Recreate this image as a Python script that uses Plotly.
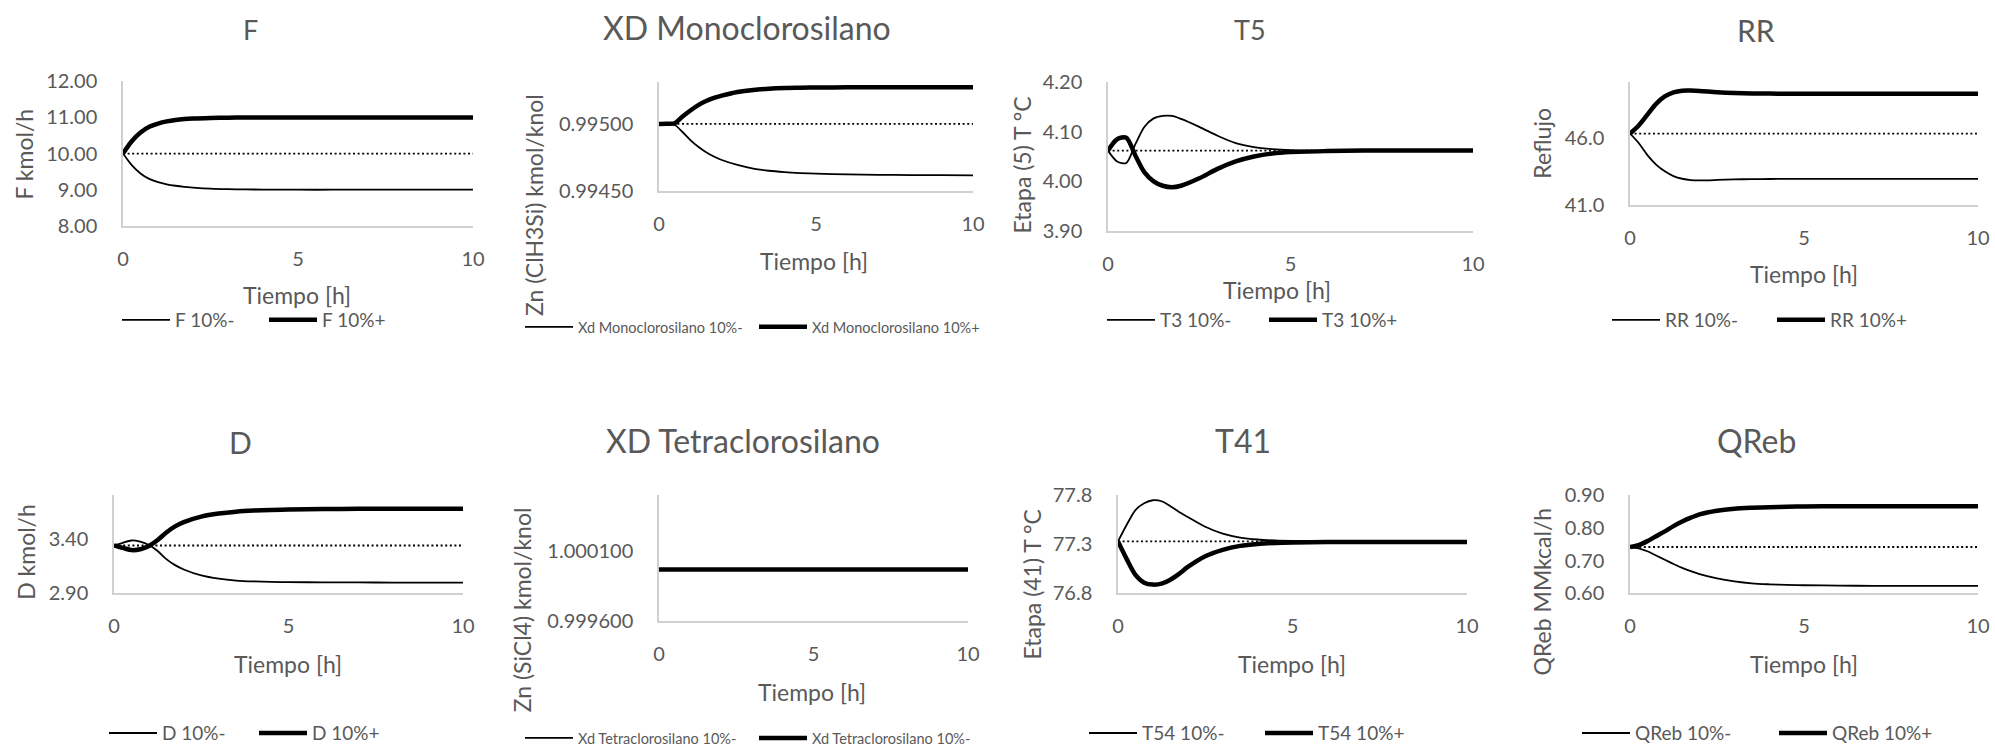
import plotly.graph_objects as go

# ---------------------------------------------------------------- data
tiempo = [0, 0.25, 0.5, 0.75, 1, 1.25, 1.5, 1.75, 2, 2.5, 3, 3.5, 4, 4.5, 5, 6, 7, 8, 9, 10]

f_base = 10.0
f_menos = [10.0, 9.68, 9.45, 9.30, 9.21, 9.15, 9.11, 9.08, 9.06, 9.03, 9.015, 9.008, 9.004,
           9.002, 9.0, 9.0, 9.0, 9.0, 9.0, 9.0]
f_mas = [10.0, 10.34, 10.58, 10.74, 10.83, 10.89, 10.93, 10.955, 10.97, 10.985, 10.993, 10.997,
         10.999, 11.0, 11.0, 11.0, 11.0, 11.0, 11.0, 11.0]

mono_base = 0.995
mono_menos = [0.995000, 0.994999, 0.994992, 0.994940, 0.994880, 0.994830, 0.994790, 0.994758,
              0.994732, 0.994695, 0.994668, 0.994652, 0.994642, 0.994635, 0.994630, 0.994625,
              0.994622, 0.994620, 0.994619, 0.994618]
mono_mas = [0.995000, 0.995001, 0.995005, 0.995055, 0.995100, 0.995140, 0.995170, 0.995193,
            0.995210, 0.995237, 0.995253, 0.995262, 0.995267, 0.995269, 0.995271, 0.995272,
            0.995272, 0.995273, 0.995273, 0.995273]

t5_base = 4.062
t5_menos = [4.062, 4.040, 4.037, 4.075, 4.110, 4.127, 4.132, 4.132, 4.126, 4.110, 4.092, 4.077,
            4.069, 4.065, 4.063, 4.062, 4.062, 4.062, 4.062, 4.062]
t5_mas = [4.062, 4.085, 4.088, 4.052, 4.018, 4.000, 3.991, 3.988, 3.991, 4.006, 4.025, 4.040,
          4.050, 4.056, 4.059, 4.061, 4.062, 4.062, 4.062, 4.062]

rr_base = 46.3
rr_menos = [46.3, 45.6, 44.7, 44.0, 43.5, 43.15, 42.95, 42.85, 42.83, 42.86, 42.90, 42.92,
            42.93, 42.94, 42.94, 42.94, 42.94, 42.94, 42.94, 42.94]
rr_mas = [46.3, 46.9, 47.7, 48.5, 49.05, 49.35, 49.47, 49.48, 49.45, 49.36, 49.30, 49.27,
          49.26, 49.25, 49.25, 49.25, 49.25, 49.25, 49.25, 49.25]

d_base = 3.34
d_menos = [3.34, 3.365, 3.386, 3.375, 3.345, 3.29, 3.215, 3.16, 3.12, 3.065, 3.035, 3.018,
           3.010, 3.006, 3.004, 3.002, 3.001, 3.0, 3.0, 3.0]
d_mas = [3.34, 3.318, 3.298, 3.305, 3.335, 3.39, 3.46, 3.515, 3.555, 3.605, 3.633, 3.650,
         3.660, 3.666, 3.670, 3.674, 3.676, 3.676, 3.676, 3.676]

tetra_menos = [0.99997] * 20
tetra_mas = [0.99997] * 20

t41_base = 77.33
t41_menos = [77.33, 77.50, 77.65, 77.72, 77.75, 77.74, 77.69, 77.63, 77.58, 77.48, 77.41,
             77.37, 77.35, 77.34, 77.335, 77.33, 77.33, 77.33, 77.33, 77.33]
t41_mas = [77.33, 77.15, 76.99, 76.91, 76.89, 76.90, 76.94, 77.00, 77.07, 77.18, 77.245,
           77.285, 77.305, 77.315, 77.32, 77.325, 77.325, 77.325, 77.325, 77.325]

qreb_base = 0.742
qreb_menos = [0.742, 0.738, 0.729, 0.716, 0.703, 0.690, 0.678, 0.668, 0.659, 0.646, 0.637,
              0.631, 0.628, 0.626, 0.625, 0.624, 0.623, 0.623, 0.623, 0.623]
qreb_mas = [0.742, 0.748, 0.760, 0.775, 0.790, 0.806, 0.820, 0.832, 0.842, 0.853, 0.859,
            0.862, 0.864, 0.865, 0.866, 0.867, 0.867, 0.867, 0.867, 0.867]

titulos = ["F", "XD Monoclorosilano", "T5", "RR", "D", "XD Tetraclorosilano", "T41", "QReb"]
titulos_y = ["F kmol/h", "Zn (ClH3Si) kmol/knol", "Etapa (5) T °C", "Reflujo",
             "D kmol/h", "Zn (SiCl4) kmol/knol", "Etapa (41) T °C", "QReb MMkcal/h"]
nombres = [("F 10%-", "F 10%+"),
           ("Xd Monoclorosilano 10%-", "Xd Monoclorosilano 10%+"),
           ("T3 10%-", "T3 10%+"),
           ("RR 10%-", "RR 10%+"),
           ("D 10%-", "D 10%+"),
           ("Xd Tetraclorosilano 10%-", "Xd Tetraclorosilano 10%-"),
           ("T54 10%-", "T54 10%+"),
           ("QReb 10%-", "QReb 10%+")]
series = [(f_menos, f_mas, f_base), (mono_menos, mono_mas, mono_base),
          (t5_menos, t5_mas, t5_base), (rr_menos, rr_mas, rr_base),
          (d_menos, d_mas, d_base), (tetra_menos, tetra_mas, None),
          (t41_menos, t41_mas, t41_base), (qreb_menos, qreb_mas, qreb_base)]
y_rangos = [[8, 12], [0.9945, 0.99531], [3.9, 4.2], [41, 50.1],
            [2.9, 3.8], [0.9996, 1.0005], [76.8, 77.8], [0.6, 0.9]]
y_ticks = [[8, 9, 10, 11, 12], [0.9945, 0.995], [3.9, 4.0, 4.1, 4.2], [41, 46],
           [2.9, 3.4], [0.9996, 1.0001], [76.8, 77.3, 77.8], [0.6, 0.7, 0.8, 0.9]]
y_formatos = [".2f", ".5f", ".2f", ".1f", ".2f", ".6f", ".1f", ".2f"]
x_ticks = [0, 5, 10]

# ---------------------------------------------------------------- layout geometry (pixels)
W, H = 1995, 754
# plot boxes: left, right, top, bottom
cajas = [(123, 473, 82, 228), (659, 973, 83, 193), (1108, 1473, 83, 233), (1630, 1978, 83, 207),
         (114, 463, 500, 599), (659, 968, 500, 627), (1118, 1467, 500, 599), (1630, 1978, 500, 599)]
pos_titulo = [(250, 30, 27), (747, 28, 32), (1250, 30, 27), (1756, 30, 30),
              (240, 446, 30), (743, 445, 32), (1243, 445, 32), (1756, 445, 32)]
pos_titulo_y = [(24, 156), (534, 207), (1022, 167), (1542, 145),
                (26, 557), (522, 616), (1032, 590), (1542, 597)]
pos_titulo_x = [(297, 298), (814, 263), (1277, 293), (1804, 277),
                (288, 670), (812, 698), (1292, 670), (1804, 670)]
# legend: first text start, row centre, spacing between items, font size
pos_leyenda = [(175, 323, 147, 19), (578, 330, 234, 14.5), (1160, 323, 162, 19),
               (1665, 323, 165, 19), (162, 740, 150, 19), (578, 745, 234, 14.5),
               (1142, 740, 176, 19), (1635, 740, 197, 19)]
MUESTRA = 48  # legend line sample length

GRIS = "#595959"
EJE = "#d0d0d0"
FUENTE = "Lato"


def px_x(v):
    return v / W


def px_y(v):
    return 1 - v / H


fig = go.Figure()
layout = dict(
    width=W, height=H,
    margin=dict(l=0, r=0, t=0, b=0),
    paper_bgcolor="white", plot_bgcolor="white",
    font=dict(family=FUENTE, color=GRIS, size=20),
    annotations=[],
)

for i in range(8):
    n = i + 1
    sx = "" if n == 1 else str(n)
    xa, ya = "x" + sx, "y" + sx
    leg = "legend" + sx
    menos, mas, base = series[i]
    fig.add_trace(go.Scatter(x=tiempo, y=menos, name=nombres[i][0], mode="lines",
                             line=dict(color="black", width=1.8, shape="spline", smoothing=0.8),
                             xaxis=xa, yaxis=ya, legend=leg))
    fig.add_trace(go.Scatter(x=tiempo, y=mas, name=nombres[i][1], mode="lines",
                             line=dict(color="black", width=4.5, shape="spline", smoothing=0.8),
                             xaxis=xa, yaxis=ya, legend=leg))
    if base is not None:
        fig.add_trace(go.Scatter(x=[tiempo[0], tiempo[-1]], y=[base, base], mode="lines",
                                 line=dict(color="black", width=1.8, dash="2px,2.6px"),
                                 xaxis=xa, yaxis=ya, showlegend=False, hoverinfo="skip"))

    l, r, t, b = cajas[i]
    layout["xaxis" + sx] = dict(
        domain=[px_x(l), px_x(r)], anchor=ya, range=[0, 10], tickvals=x_ticks,
        showline=True, linecolor=EJE, linewidth=1.5, showgrid=False, zeroline=False,
        ticks="", ticklabelstandoff=14, tickfont=dict(size=20, color=GRIS), automargin=False,
    )
    layout["yaxis" + sx] = dict(
        domain=[px_y(b), px_y(t)], anchor=xa, range=y_rangos[i], tickvals=y_ticks[i],
        tickformat=y_formatos[i], showline=True, linecolor=EJE, linewidth=1.5,
        showgrid=False, zeroline=False, ticks="", ticklabelstandoff=20,
        tickfont=dict(size=20, color=GRIS), automargin=False,
    )

    tx, ty, tf = pos_titulo[i]
    layout["annotations"].append(dict(text=titulos[i], x=px_x(tx), y=px_y(ty), xref="paper",
                                      yref="paper", showarrow=False, xanchor="center",
                                      yanchor="middle", font=dict(size=tf, color=GRIS)))
    yx, yy = pos_titulo_y[i]
    layout["annotations"].append(dict(text=titulos_y[i], x=px_x(yx), y=px_y(yy), xref="paper",
                                      yref="paper", showarrow=False, xanchor="center",
                                      yanchor="middle", textangle=-90,
                                      font=dict(size=23, color=GRIS)))
    xx, xy = pos_titulo_x[i]
    layout["annotations"].append(dict(text="Tiempo [h]", x=px_x(xx), y=px_y(xy), xref="paper",
                                      yref="paper", showarrow=False, xanchor="center",
                                      yanchor="middle", font=dict(size=23, color=GRIS)))

    lx, ly, lsp, lf = pos_leyenda[i]
    text_gap = MUESTRA + 10
    layout[leg] = dict(
        orientation="h", x=px_x(lx - text_gap), y=px_y(ly), xanchor="left", yanchor="middle",
        xref="paper", yref="paper", bgcolor="rgba(0,0,0,0)", borderwidth=0,
        itemwidth=MUESTRA, entrywidth=lsp - text_gap - 5, entrywidthmode="pixels",
        traceorder="normal", font=dict(size=lf, color=GRIS, family=FUENTE),
    )

fig.update_layout(**layout)
# the page body keeps no default margin so the figure fills the window exactly
fig.write_html("out.html", post_script="document.body.style.margin = '0';")
